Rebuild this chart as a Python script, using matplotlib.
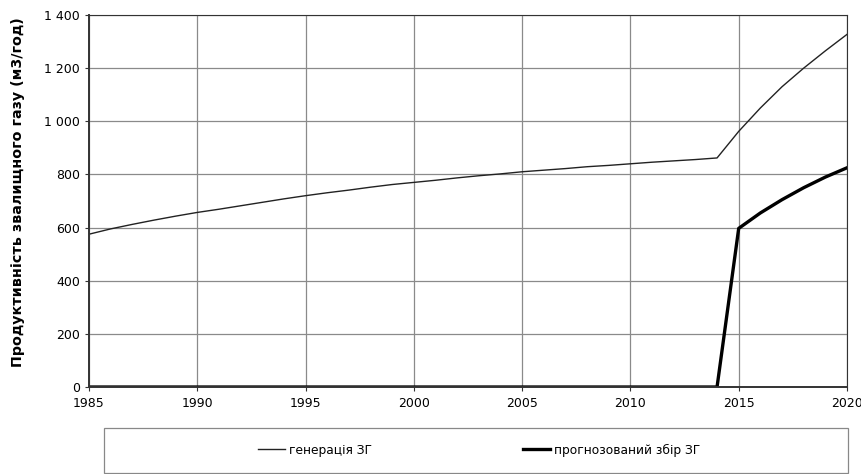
import matplotlib.pyplot as plt
from matplotlib.patches import Rectangle
from matplotlib.ticker import FuncFormatter

years = list(range(1985, 2021))
generation = [575, 595, 612, 628, 643, 657, 669, 682, 695, 708,
              720, 731, 741, 752, 762, 770, 778, 787, 795, 802,
              810, 816, 822, 829, 834, 840, 846, 851, 856, 862,
              962, 1050, 1130, 1200, 1265, 1327]
collection = [0] * 30 + [597, 655, 705, 750, 790, 825]

plt.rcParams['font.family'] = ['DejaVu Sans']

fig = plt.figure(figsize=(8.62, 4.74), dpi=100)
ax = fig.add_axes([0.1032, 0.1835, 0.8794, 0.7849])

ax.plot(years, generation, color='#222222', lw=1.0, label='генерація ЗГ')
ax.plot(years, collection, color='black', lw=2.4, label='прогнозований збір ЗГ')

ax.set_xlim(1985, 2020)
ax.set_ylim(0, 1400)
ax.set_xticks(range(1985, 2021, 5))
ax.set_yticks(range(0, 1401, 200))
ax.yaxis.set_major_formatter(FuncFormatter(lambda v, p: f"{int(v):,}".replace(",", " ")))
ax.grid(True, color='#8a8a8a', lw=0.9)
ax.set_axisbelow(True)
ax.tick_params(labelsize=9, length=3, direction='out', color='#333333')
ax.tick_params(axis='x', pad=4)
for s in ax.spines.values():
    s.set_color('#333333')
ax.spines['left'].set_linewidth(1.4)
ax.spines['bottom'].set_linewidth(1.4)

ax.set_ylabel('Продуктивність звалищного газу (м3/год)', fontsize=10.3,
              fontweight='bold', va='center')
ax.yaxis.set_label_coords((18 - 89) / 758, (387 - 192) / 372)

# legend box below the plot
fig.patches.append(Rectangle((104 / 862, 1 - 473 / 474), 744 / 862, 45 / 474,
                             transform=fig.transFigure, fill=False,
                             edgecolor='#888888', lw=0.9))
fig.legend(loc='center', bbox_to_anchor=(479 / 862, 1 - 450 / 474), ncol=2,
           frameon=False, fontsize=8.8, handlelength=2.2, handletextpad=0.3,
           columnspacing=12.4)

fig.savefig('out.png', dpi=100)
